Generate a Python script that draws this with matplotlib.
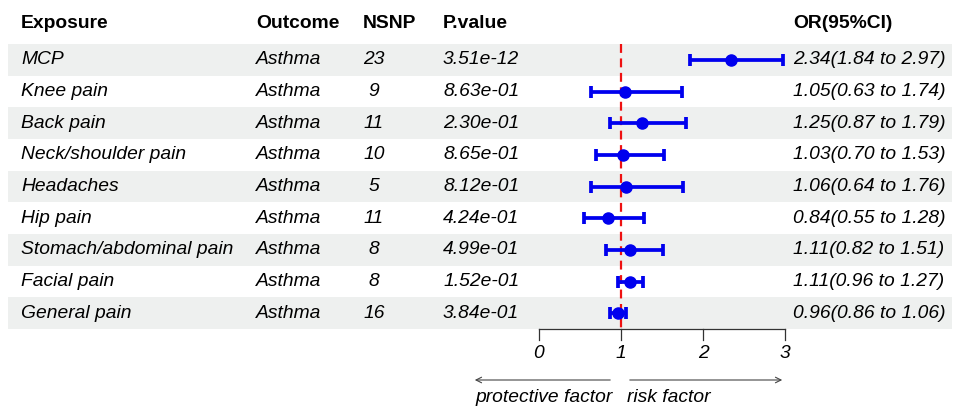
import numpy as np
import matplotlib
matplotlib.use('Agg')
from matplotlib import pyplot as plt
from matplotlib.transforms import blended_transform_factory

plt.rcParams['font.family'] = ['Liberation Sans', 'DejaVu Sans']

exposure = ['MCP', 'Knee pain', 'Back pain', 'Neck/shoulder pain', 'Headaches',
            'Hip pain', 'Stomach/abdominal pain', 'Facial pain', 'General pain']
outcome = ['Asthma'] * 9
nsnp = [23, 9, 11, 10, 5, 11, 8, 8, 16]
pval = ['3.51e-12', '8.63e-01', '2.30e-01', '8.65e-01', '8.12e-01',
        '4.24e-01', '4.99e-01', '1.52e-01', '3.84e-01']
or_val = np.array([2.34, 1.05, 1.25, 1.03, 1.06, 0.84, 1.11, 1.11, 0.96])
or_lo = np.array([1.84, 0.63, 0.87, 0.70, 0.64, 0.55, 0.82, 0.96, 0.86])
or_hi = np.array([2.97, 1.74, 1.79, 1.53, 1.76, 1.28, 1.51, 1.27, 1.06])
ticks = [0, 1, 2, 3]

W, H = 956, 409
fig = plt.figure(figsize=(W / 100, H / 100), dpi=100)
ax = fig.add_axes([0, 0, 1, 1])
ax.axis('off')

# pixel layout -> data
px0, ppu = 539, 82.0
ax.set_xlim(-px0 / ppu, (W - px0) / ppu)
row0, rowh = 60, 31.65
ax.set_ylim((H - row0) / rowh, -row0 / rowh)

tr = blended_transform_factory(ax.transAxes, ax.transData)
fs = 13.9
n = len(exposure)
rows = np.arange(n)

# shaded bands
for i in rows:
    if i % 2 == 0:
        ax.axhspan(i - 0.5, i + 0.5, xmin=8 / W, xmax=952 / W, color='#eef0ef', lw=0, zorder=0)

# header
hy = (24 - row0) / rowh
for x, s in [(21, 'Exposure'), (256, 'Outcome'), (363, 'NSNP'), (443, 'P.value'), (793, 'OR(95%CI)')]:
    ax.text(x / W, hy, s, transform=tr, fontsize=fs, fontweight='bold', va='center', ha='left')

for i in rows:
    ax.text(21 / W, i, exposure[i], transform=tr, fontsize=fs, style='italic', va='center')
    ax.text(256 / W, i, outcome[i], transform=tr, fontsize=fs, style='italic', va='center')
    ax.text(374 / W, i, str(nsnp[i]), transform=tr, fontsize=fs, style='italic', va='center', ha='center')
    ax.text(443 / W, i, pval[i], transform=tr, fontsize=fs, style='italic', va='center')
    ax.text(793 / W, i, f'{or_val[i]:.2f}({or_lo[i]:.2f} to {or_hi[i]:.2f})',
            transform=tr, fontsize=fs, style='italic', va='center')

# reference line
ax.plot([1, 1], [-0.5, n - 0.5], color='#ee1111', lw=1.6, ls=(0, (4, 2.5)), zorder=2)

ax.errorbar(or_val, rows, xerr=[or_val - or_lo, or_hi - or_val], fmt='o', color='#0000ee',
            ms=8, elinewidth=2.7, capsize=4, capthick=2.7, zorder=3)

# x axis
ay = n - 0.5
ax.plot([ticks[0], ticks[-1]], [ay, ay], color='#333333', lw=0.9)
for t in ticks:
    ax.plot([t, t], [ay, ay + 0.35], color='#333333', lw=0.9)
    ax.text(t, ay + 0.78, str(t), fontsize=fs, style='italic', ha='center', va='center')

# direction arrows
ary = (380 - row0) / rowh
ax.annotate('', xy=((472 - px0) / ppu, ary), xytext=((613 - px0) / ppu, ary),
            arrowprops=dict(arrowstyle='->', color='#444444', lw=0.8))
ax.annotate('', xy=(3, ary), xytext=((627 - px0) / ppu, ary),
            arrowprops=dict(arrowstyle='->', color='#444444', lw=0.8))
aly = (398 - row0) / rowh
ax.text((613 - px0) / ppu, aly, 'protective factor', fontsize=fs, style='italic', ha='right', va='center')
ax.text((627 - px0) / ppu, aly, 'risk factor', fontsize=fs, style='italic', ha='left', va='center')

fig.savefig('out.png', dpi=100)
